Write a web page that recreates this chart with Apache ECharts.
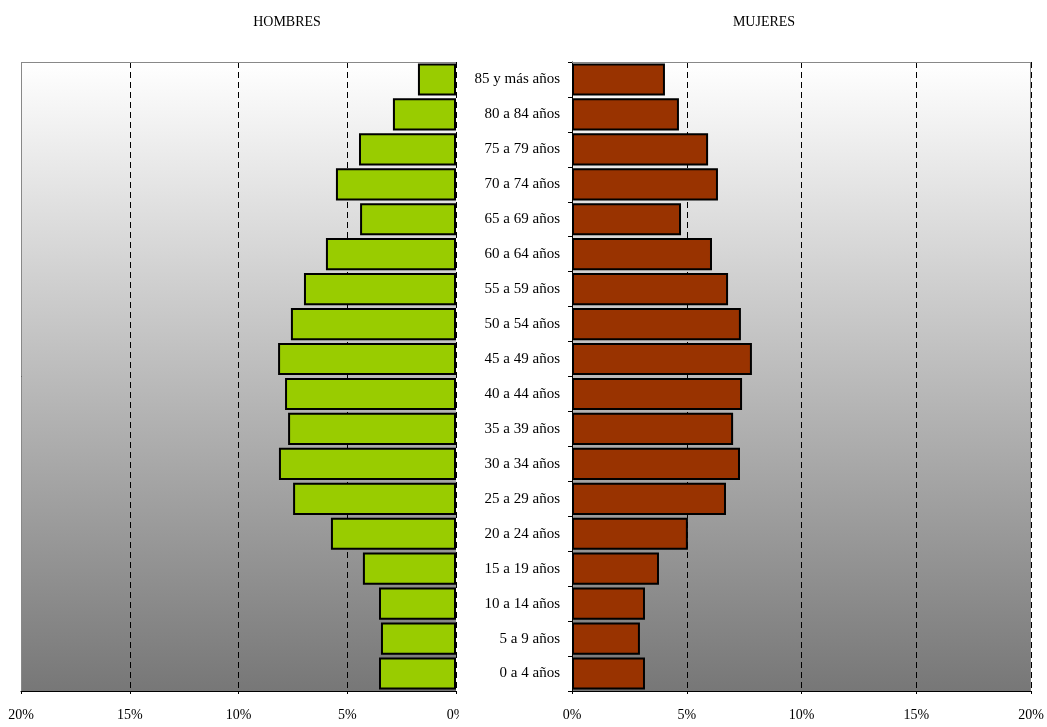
<!DOCTYPE html>
<html><head><meta charset="utf-8">
<script src="https://cdn.jsdelivr.net/npm/echarts@6/dist/echarts.min.js"></script>
<style>html,body{margin:0;padding:0;background:#fff}#c{width:1047px;height:727px}</style>
</head><body><div id="c"></div>
<script>
const categories = ['0 a 4 años','5 a 9 años','10 a 14 años','15 a 19 años','20 a 24 años','25 a 29 años','30 a 34 años','35 a 39 años','40 a 44 años','45 a 49 años','50 a 54 años','55 a 59 años','60 a 64 años','65 a 69 años','70 a 74 años','75 a 79 años','80 a 84 años','85 y más años'];
const hombres = [3.54,3.45,3.54,4.28,5.75,7.49,8.14,7.72,7.86,8.18,7.59,6.99,5.98,4.41,5.52,4.46,2.9,1.75];
const mujeres = [3.18,2.96,3.18,3.79,5.05,6.71,7.32,7.02,7.41,7.84,7.36,6.80,6.10,4.75,6.36,5.93,4.66,4.05];
const titles = ['HOMBRES','MUJERES'];
const xTicks = [0,5,10,15,20];

const FONT = '"Liberation Serif","Times New Roman",serif';
const bg = {type:'linear',x:0,y:0,x2:0,y2:1,colorStops:[{offset:0,color:'#ffffff'},{offset:1,color:'#777777'}]};
const chart = echarts.init(document.getElementById('c'));
const xCommon = {
  type:'value', min:xTicks[0], max:xTicks[xTicks.length-1], interval:5,
  axisLine:{show:true,lineStyle:{color:'#000',width:1}},
  axisTick:{show:true,length:3,lineStyle:{color:'#000'}},
  axisLabel:{color:'#000',fontFamily:FONT,fontSize:14,margin:17,formatter:v=>v+'%'},
  splitLine:{show:true,lineStyle:{color:'#000',type:[6,4],width:1}}
};
chart.setOption({
  animation:false,
  title:[
    {text:titles[0],left:282,top:10,textAlign:'center',textStyle:{fontFamily:FONT,fontSize:14,fontWeight:'normal',color:'#000'}},
    {text:titles[1],left:759,top:10,textAlign:'center',textStyle:{fontFamily:FONT,fontSize:14,fontWeight:'normal',color:'#000'}}
  ],
  grid:[
    {left:21,width:435,top:62,height:629,show:true,backgroundColor:bg,borderWidth:0},
    {left:572,width:459,top:62,height:629,show:true,backgroundColor:bg,borderWidth:0}
  ],
  xAxis:[
    Object.assign({gridIndex:0,inverse:true},xCommon),
    Object.assign({gridIndex:1},xCommon)
  ],
  yAxis:[
    {gridIndex:0,type:'category',data:categories,position:'right',axisLine:{show:false},axisTick:{show:false},axisLabel:{show:false}},
    {gridIndex:1,type:'category',data:categories,position:'left',
     axisLine:{show:true,lineStyle:{color:'#000',width:1}},
     axisTick:{show:true,length:4,lineStyle:{color:'#000'}},
     axisLabel:{color:'#000',fontFamily:FONT,fontSize:15,margin:12}}
  ],
  series:[
    {type:'bar',xAxisIndex:0,yAxisIndex:0,data:hombres,barCategoryGap:'8%',
     itemStyle:{color:'#99cc00',borderColor:'#000',borderWidth:2}},
    {type:'bar',xAxisIndex:1,yAxisIndex:1,data:mujeres,barCategoryGap:'8%',
     itemStyle:{color:'#993300',borderColor:'#000',borderWidth:2}}
  ],
  graphic:[
    {type:'line',shape:{x1:21,y1:62.5,x2:456,y2:62.5},style:{stroke:'#888',lineWidth:1},z:10},
    {type:'line',shape:{x1:21.5,y1:62,x2:21.5,y2:691},style:{stroke:'#888',lineWidth:1},z:10},
    {type:'line',shape:{x1:572,y1:62.5,x2:1031,y2:62.5},style:{stroke:'#888',lineWidth:1},z:10},
    {type:'line',shape:{x1:1030.5,y1:62,x2:1030.5,y2:691},style:{stroke:'#888',lineWidth:1},z:10},
    {type:'rect',shape:{x:459,y:700,width:100,height:25},style:{fill:'#fff'},z:100}
  ]
});
</script></body></html>
